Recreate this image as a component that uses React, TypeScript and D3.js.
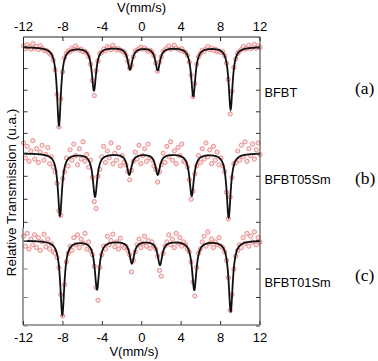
import React from 'react';
import * as d3 from 'd3';

const velocityTicks = [-12, -8, -4, 0, 4, 8, 12];
const sampleNames = ['BFBT', 'BFBT05Sm', 'BFBT01Sm'];
const panelTags = ['(a)', '(b)', '(c)'];

// transmission ticks (%) of each panel
const ticksA = [100, 99, 98, 97, 96];
const ticksB = [100, 99, 98, 97];
const ticksC = [100, 99, 98, 97];

// fitted sextets: line centres (mm/s), depths (%), half widths (mm/s)
const centersA = [-8.4, -4.85, -1.19, 1.62, 5.23, 9.02];
const depthsA = [3.61, 2.0, 1.02, 1.06, 2.27, 2.87];
const widthsA = [0.24, 0.26, 0.28, 0.28, 0.26, 0.24];

const centersB = [-8.3, -4.74, -1.26, 1.62, 5.07, 8.82];
const depthsB = [2.7, 1.87, 0.91, 0.91, 1.83, 2.78];
const widthsB = [0.25, 0.27, 0.28, 0.28, 0.27, 0.25];

const centersC = [-8.06, -4.54, -1.0, 1.85, 5.33, 9.03];
const depthsC = [2.6, 1.7, 0.79, 0.84, 1.72, 2.49];
const widthsC = [0.25, 0.27, 0.28, 0.28, 0.27, 0.25];

// measured relative transmission (%), 128 channels from -12 to 12 mm/s
const transmissionA = [
  100.05, 99.92, 100.1, 99.98, 99.9, 100.15, 99.95, 100.02, 99.88, 100.06,
  99.93, 99.85, 99.84, 99.8, 99.7, 99.62, 99.4, 98.95, 97.8, 96.3,
  97.6, 98.85, 99.5, 99.7, 99.82, 99.78, 99.95, 99.88, 100.05, 99.92,
  99.85, 99.9, 99.78, 99.8, 99.72, 99.55, 99.2, 98.45, 97.75, 98.9,
  99.35, 99.7, 99.75, 99.9, 99.82, 100.02, 99.95, 99.88, 100.08, 99.94,
  99.86, 99.92, 99.85, 99.82, 99.78, 99.62, 99.35, 99.02, 99.15, 99.55,
  99.8, 99.85, 99.92, 100.0, 99.9, 99.95, 99.88, 99.8, 99.85, 99.78,
  99.6, 99.25, 98.88, 99.3, 99.55, 99.8, 99.88, 99.95, 100.05, 99.9,
  99.96, 100.08, 99.94, 99.9, 99.85, 99.92, 99.8, 99.75, 99.62, 99.3,
  98.7, 97.7, 98.3, 99.2, 99.55, 99.7, 99.85, 99.8, 99.92, 100.02,
  99.88, 99.95, 99.84, 99.9, 99.78, 99.82, 99.75, 99.78, 99.6, 99.25,
  98.5, 96.9, 97.95, 99.05, 99.45, 99.7, 99.8, 99.88, 100.02, 99.9,
  99.95, 100.08, 99.92, 100.0, 100.12, 99.94, 100.05, 99.98,
];

const transmissionB = [
  100.45, 99.8, 100.3, 99.65, 100.1, 100.55, 99.75, 100.2, 99.6, 100.05,
  100.35, 99.7, 99.95, 100.25, 99.55, 99.85, 99.4, 99.2, 98.7, 97.5,
  97.3, 98.9, 99.2, 99.8, 99.45, 100.15, 99.7, 100.4, 99.9, 99.5,
  100.2, 99.75, 100.5, 99.65, 99.95, 99.4, 99.7, 98.95, 97.9, 97.6,
  99.0, 99.3, 99.85, 100.3, 99.6, 100.1, 99.8, 100.45, 99.55, 100.0,
  99.7, 100.25, 99.45, 99.9, 99.6, 99.5, 99.2, 98.85, 99.25, 99.65,
  100.05, 99.75, 100.35, 99.55, 99.9, 100.2, 99.65, 100.4, 99.8, 99.7,
  99.45, 99.3, 98.75, 99.2, 99.5, 100.0, 99.6, 100.3, 99.85, 100.5,
  99.7, 100.1, 99.55, 100.25, 99.9, 100.4, 99.65, 99.6, 99.4, 98.85,
  98.0, 98.35, 99.1, 99.45, 99.9, 99.6, 100.2, 99.75, 100.45, 99.85,
  100.15, 99.55, 100.3, 99.7, 100.05, 99.5, 99.8, 99.45, 99.2, 98.3,
  97.15, 98.1, 98.95, 99.55, 99.6, 100.1, 99.7, 100.35, 99.85, 100.5,
  99.65, 100.2, 99.9, 100.4, 99.75, 100.15, 100.45, 99.95,
];

const transmissionC = [
  100.15, 99.8, 100.25, 99.7, 100.05, 99.85, 100.2, 99.75, 100.1, 99.65,
  99.95, 100.22, 99.78, 100.05, 99.7, 99.88, 99.6, 99.55, 99.4, 99.05,
  98.1, 97.35, 98.45, 99.25, 99.55, 99.8, 99.65, 100.1, 99.85, 100.2,
  99.75, 100.05, 99.9, 100.25, 99.7, 99.95, 99.65, 99.5, 99.1, 98.35,
  97.9, 99.05, 99.5, 99.8, 99.7, 100.15, 99.85, 100.0, 100.22, 99.78,
  99.95, 99.7, 100.08, 99.82, 99.75, 99.8, 99.65, 99.5, 98.9, 99.3,
  99.6, 99.85, 100.05, 99.75, 99.9, 100.15, 99.8, 100.0, 99.72, 99.95,
  99.82, 99.7, 99.45, 98.95, 98.75, 99.55, 99.8, 99.95, 100.2, 99.85,
  100.05, 99.75, 100.25, 99.9, 100.1, 99.8, 99.95, 99.85, 99.7, 99.6,
  99.25, 98.55, 98.05, 99.05, 99.55, 99.7, 99.95, 100.15, 99.8, 100.3,
  99.9, 100.05, 99.75, 99.95, 99.85, 100.1, 99.8, 99.75, 99.6, 99.3,
  98.7, 97.55, 98.1, 99.0, 99.45, 99.65, 99.85, 99.75, 100.1, 99.9,
  100.25, 99.8, 100.15, 99.95, 100.3, 99.85, 100.1, 99.95,
];

const W = 378;
const H = 361;
const left = 23.5;
const right = 260;
const top = 37;
const bottom = 325;
const split = 228;

const sans = 'Liberation Sans, Arial, sans-serif';
const serif = 'Liberation Serif, Times New Roman, serif';

export default function App() {
  const x = d3.scaleLinear().domain([-12, 12]).range([left, right]);
  const channel = d3.scaleLinear().domain([0, transmissionA.length - 1]).range([-12, 12]);
  const grid = d3.range(-12, 12.0001, 0.02);

  const panels = [
    { name: sampleNames[0], tag: panelTags[0], centers: centersA, depths: depthsA, widths: widthsA, data: transmissionA, ticks: ticksA,
      y: d3.scaleLinear().domain([100, 96]).range([47, 133.4]), labelY: 97, tagY: 93.5 },
    { name: sampleNames[1], tag: panelTags[1], centers: centersB, depths: depthsB, widths: widthsB, data: transmissionB, ticks: ticksB,
      y: d3.scaleLinear().domain([100, 97]).range([153.3, 222.3]), labelY: 184.3, tagY: 183.5 },
    { name: sampleNames[2], tag: panelTags[2], centers: centersC, depths: depthsC, widths: widthsC, data: transmissionC, ticks: ticksC,
      y: d3.scaleLinear().domain([100, 97]).range([240.5, 326]), labelY: 286.5, tagY: 280.5 },
  ];

  // sum of Lorentzian lines
  const fit = (v: number, p: any) =>
    100 - d3.sum(p.centers, (c: number, k: number) => p.depths[k] / (1 + ((v - c) / p.widths[k]) ** 2));

  return (
    <svg width={W} height={H} style={{ position: 'absolute', left: 0, top: 0, background: '#fff' }}>
      {panels.map((p, i) => {
        const line = d3.line<number>().x(v => x(v)).y(v => p.y(fit(v, p)));
        return (
          <g key={i}>
            {p.data.map((t, j) => (
              <circle key={j} cx={x(channel(j))} cy={p.y(t)} r={2.1}
                fill="#f8e4e4" stroke="#eb7f7f" strokeWidth={0.9} />
            ))}
            <path d={line(grid) || ''} fill="none" stroke="#111" strokeWidth={1.8} />
            {p.ticks.map(t => (
              <g key={t}>
                <line x1={left} x2={left + 4} y1={p.y(t)} y2={p.y(t)} stroke={i === 2 ? '#777' : '#333'} />
                <line x1={right - 4} x2={right} y1={p.y(t)} y2={p.y(t)} stroke="#333" />
              </g>
            ))}
            <text x={264.5} y={p.labelY} fontFamily={sans} fontSize={12.8}>{p.name}</text>
            <text x={355} y={p.tagY} fontFamily={serif} fontSize={17.5}>{p.tag}</text>
          </g>
        );
      })}

      {/* frame */}
      <line x1={left} x2={right} y1={top} y2={top} stroke="#222" />
      <line x1={right} x2={right} y1={top} y2={bottom} stroke="#333" />
      <line x1={left} x2={left} y1={top} y2={split} stroke="#222" />
      <line x1={left - 0.5} x2={left - 0.5} y1={split} y2={bottom} stroke="#808080" strokeWidth={1.5} />
      <line x1={left - 0.5} x2={right} y1={bottom} y2={bottom} stroke="#808080" strokeWidth={1.5} />

      {velocityTicks.map(v => (
        <g key={v}>
          <line x1={x(v)} x2={x(v)} y1={top} y2={top + 4} stroke="#222" />
          <line x1={x(v)} x2={x(v)} y1={bottom} y2={bottom - 4} stroke="#333" />
          <text x={x(v)} y={30.5} textAnchor="middle" fontFamily={sans} fontSize={13}>{v}</text>
          <text x={x(v)} y={341.5} textAnchor="middle" fontFamily={sans} fontSize={13}>{v}</text>
        </g>
      ))}

      <text x={141.5} y={11.5} textAnchor="middle" fontFamily={sans} fontSize={13}>V(mm/s)</text>
      <text x={134} y={355.5} textAnchor="middle" fontFamily={sans} fontSize={13}>V(mm/s)</text>
      <text transform="translate(16,192.5) rotate(-90)" textAnchor="middle" fontFamily={sans} fontSize={13.5}>
        Relative Transmission (u.a.)
      </text>
    </svg>
  );
}
